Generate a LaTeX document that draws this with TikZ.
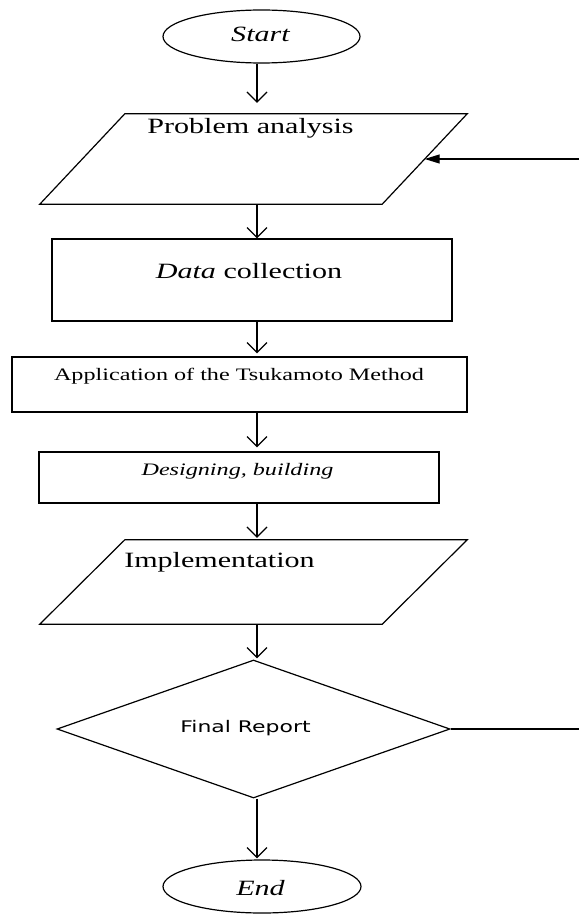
\documentclass[tikz,border=0pt]{standalone}
\usepackage{fontspec}
\setmainfont{Liberation Serif}[FakeStretch=1.38]
\newfontfamily\sansf{DejaVu Sans}[FakeStretch=1.37]
\usetikzlibrary{shapes.geometric,arrows.meta}
\begin{document}
\begin{tikzpicture}[x=1pt,y=-1pt,
  shp/.style={draw,line width=1.2pt,inner sep=0pt},
  term/.style={shp,ellipse},
  proc/.style={shp,rectangle},
  frame/.style={rectangle,inner sep=0pt},
  pline/.style={line width=1.2pt,line join=miter},
  dec/.style={shp,diamond},
  big/.style={font=\fontsize{21.8}{24}\selectfont},
  small/.style={font=\fontsize{17.5}{20}\selectfont},
  lbl/.style={anchor=base,inner sep=0pt},
  arr/.style={line width=1.2pt,-{Straight Barb[length=10pt,width=20pt]}},
  fb/.style={line width=1.2pt,-{Triangle[length=15pt,width=9pt]}}]
\useasboundingbox (0,0) rectangle (579,915);

% shapes
\node[term,minimum width=197pt,minimum height=53pt] (st) at (261.5,36.5) {};
\node[frame,minimum width=427pt,minimum height=90pt] (pa) at (253.5,159) {};
\draw[pline] ([xshift=85pt]pa.north west) -- (pa.north east)
   -- ([xshift=-85pt]pa.south east) -- (pa.south west) -- cycle;
\node[proc,minimum width=400pt,minimum height=82pt] (dc) at (252,280) {};
\node[proc,minimum width=455pt,minimum height=55pt] (ts) at (239.5,384.5) {};
\node[proc,minimum width=400pt,minimum height=51pt] (ds) at (239,477.5) {};
\node[frame,minimum width=427pt,minimum height=84pt] (im) at (253.5,582) {};
\draw[pline] ([xshift=85pt]im.north west) -- (im.north east)
   -- ([xshift=-85pt]im.south east) -- (im.south west) -- cycle;
\node[dec,minimum width=393pt,minimum height=138pt] (fr) at (253.5,729) {};
\node[term,minimum width=198pt,minimum height=53pt] (en) at (262,886.5) {};

% texts
\node[lbl,big] (tst) at (260.5,41.7) {\itshape Start};
\node[lbl,big] (tpa) at (250.5,133) {Problem analysis};
\node[lbl,big] (tdc) at (249,278) {\textit{Data} collection};
\node[lbl,small] (tts) at (239,380) {Application of the Tsukamoto Method};
\node[lbl,small] (tds) at (237.5,475) {\itshape Designing, building};
\node[lbl,big] (tim) at (219.5,567) {Implementation};
\node[lbl,font=\sansf\fontsize{16}{19}\selectfont] (tfr) at (245.5,732) {Final Report};
\node[lbl,big] (ten) at (260.5,895) {\itshape End};

% connectors
\coordinate (col) at (257,0);
\draw[arr,shorten >=11pt] (st.south -| col) -- (pa.north -| col);
\draw[arr] (pa.south -| col) -- (dc.north -| col);
\draw[arr,shorten >=3pt] (dc.south -| col) -- (ts.north -| col);
\draw[arr,shorten >=4pt] (ts.south -| col) -- (ds.north -| col);
\draw[arr,shorten >=2pt] (ds.south -| col) -- (im.north -| col);
\draw[arr,shorten >=1pt] (im.south -| col) -- (fr.north -| col);
\draw[arr,shorten >=1pt] (fr.south -| col) -- (en.north -| col);

\coordinate (fbin) at (579,159);
\coordinate (paR) at ([xshift=-42.5pt]pa.east);
\draw[fb] (fbin) -- (paR);
\coordinate (frout) at (579,729);
\draw[line width=1.2pt] (fr.east) -- (frout);
\end{tikzpicture}
\end{document}
